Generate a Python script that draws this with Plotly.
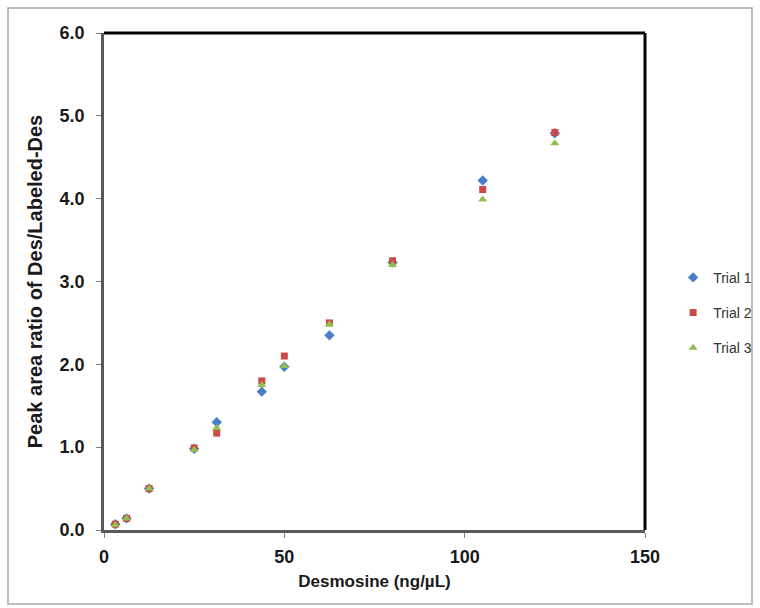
import plotly.graph_objects as go

# Desmosine calibration: concentration (ng/µL) vs peak area ratio
conc = [3.125, 6.25, 12.5, 25, 31.25, 43.75, 50, 62.5, 80, 105, 125]
trial1 = [0.07, 0.14, 0.50, 0.98, 1.30, 1.67, 1.97, 2.35, 3.23, 4.22, 4.79]
trial2 = [0.07, 0.14, 0.50, 0.99, 1.17, 1.80, 2.10, 2.50, 3.25, 4.11, 4.80]
trial3 = [0.06, 0.14, 0.50, 0.97, 1.23, 1.75, 1.98, 2.48, 3.20, 3.99, 4.67]

x_ticks = [0, 50, 100, 150]
y_ticks = [0, 1, 2, 3, 4, 5, 6]

W, H = 760, 608
L, R, T, B = 104, 115, 33, 78
pw, ph = W - L - R, H - T - B

font_family = "Liberation Sans, Arial, sans-serif"

fig = go.Figure()
series = [
    ("Trial 1", trial1, "diamond", "#4A7EC7", 8),
    ("Trial 2", trial2, "square", "#C94A48", 7),
    ("Trial 3", trial3, "triangle-up", "#92BF4E", 8),
]
for name, ys, sym, col, sz in series:
    fig.add_trace(go.Scatter(
        x=conc, y=ys, mode="markers", name=name, legendgroup=name,
        marker=dict(symbol=sym, color=col, size=sz, line=dict(width=0)),
    ))

# outer chart frame (paper coordinates are relative to the plot area)
fx0 = (8 - L) / pw
fx1 = (752 - L) / pw
fy1 = 1 + (T - 8) / ph
fy0 = -(604 - T - ph) / ph
shapes = [
    dict(type="rect", xref="paper", yref="paper", x0=fx0, x1=fx1, y0=fy0, y1=fy1,
         line=dict(color="#A6A6A6", width=1.5), layer="below"),
    # heavy black top and right borders of the plot area
    dict(type="line", xref="paper", yref="paper", x0=0, x1=1, y0=1, y1=1,
         line=dict(color="black", width=3)),
    dict(type="line", xref="paper", yref="paper", x0=1, x1=1, y0=0, y1=1,
         line=dict(color="black", width=3)),
]

fig.update_layout(
    width=W, height=H,
    margin=dict(l=L, r=R, t=T, b=B, autoexpand=False),
    paper_bgcolor="white", plot_bgcolor="white",
    font=dict(family=font_family, color="#1a1a1a"),
    shapes=shapes,
    showlegend=True,
    legend=dict(
        x=1.052, y=0.437, xanchor="left", yanchor="middle",
        font=dict(size=14, color="#333333"),
        tracegroupgap=14, itemsizing="trace", itemwidth=30,
        bgcolor="rgba(0,0,0,0)",
    ),
    xaxis=dict(
        range=[0, 150], tickvals=x_ticks,
        showgrid=False, zeroline=False,
        showline=True, linecolor="#595959", linewidth=2.5,
        ticks="outside", ticklen=5, tickcolor="#7F7F7F", tickwidth=1,
        ticklabelstandoff=4,
        tickfont=dict(size=18, family=font_family, weight="bold"),
        title=dict(text="Desmosine (ng/µL)", standoff=9,
                   font=dict(size=17, family=font_family, weight="bold")),
    ),
    yaxis=dict(
        range=[0, 6], tickvals=y_ticks, tickformat=".1f",
        showgrid=False, zeroline=False,
        showline=True, linecolor="#595959", linewidth=2.5,
        ticks="outside", ticklen=5, tickcolor="#7F7F7F", tickwidth=1,
        ticklabelstandoff=8,
        tickfont=dict(size=18, family=font_family, weight="bold"),
        title=dict(text="Peak area ratio of Des/Labeled-Des", standoff=12,
                   font=dict(size=20, family=font_family, weight="bold")),
    ),
)

fig.write_html("out.html")
